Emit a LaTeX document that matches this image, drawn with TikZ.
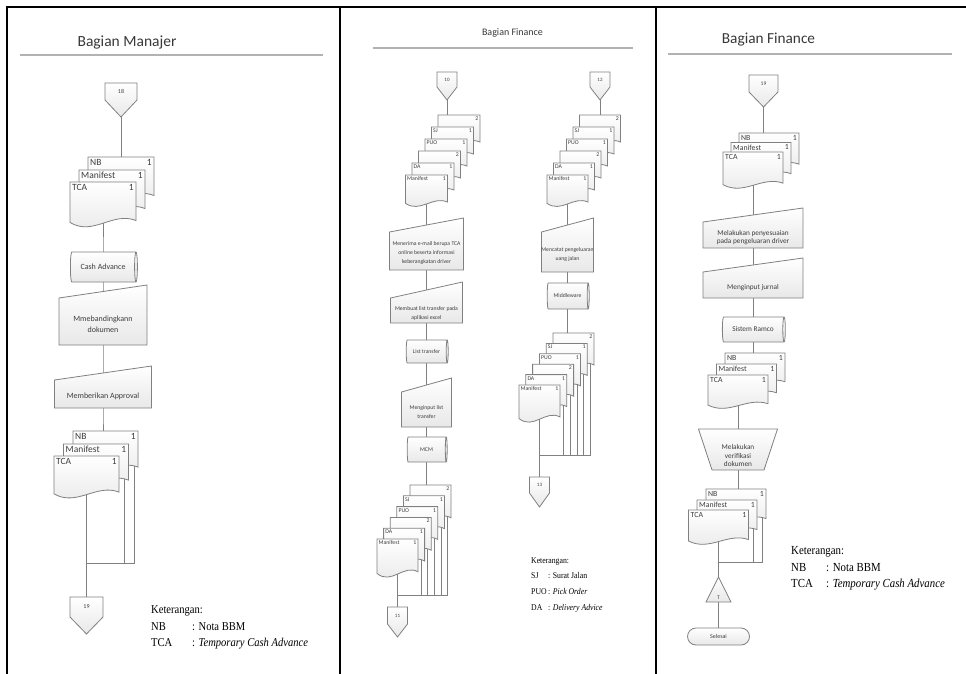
\documentclass[tikz,border=0pt]{standalone}
\usepackage{fontspec}
\setmainfont{Carlito}
\newfontfamily\ketfont[FakeStretch=0.88]{Liberation Serif}
\usetikzlibrary{positioning,shapes.geometric,backgrounds}

\definecolor{abugaris}{RGB}{128,128,128}
\definecolor{abujudul}{RGB}{178,178,178}
\definecolor{teksabu}{RGB}{62,62,62}

\tikzset{
  bingkai/.style={draw=black, line width=2.4pt},
  garisjudul/.style={draw=abujudul, line width=1.6pt},
  garis/.style={draw=abugaris, line width=0.8pt},
  bentuk/.style={draw=abugaris, line width=0.8pt, top color=white, bottom color=black!9},
  kotak/.style={rectangle, inner sep=1pt, outer sep=0pt, align=center, text=teksabu},
  judul/.style={inner sep=0pt, text=black!78},
  dlabel/.style={inner sep=2pt, text=teksabu},
  simpan/.style={cylinder, shape aspect=0.5, draw=abugaris, line width=0.8pt,
    top color=white, bottom color=black!9, inner sep=0pt, outer sep=0pt, text=teksabu},
  terminal/.style={rectangle, rounded corners=8.5pt, draw=abugaris, line width=0.8pt,
    top color=white, bottom color=black!9, inner sep=0pt, text=teksabu},
  ket/.style={anchor=north west, inner sep=0pt, text=black}
}

% dokumen: nama, x, y (kiri atas), lebar, tinggi, label kiri, label kanan
\newcommand{\dokumen}[7]{%
  \path[bentuk] (#2,#3) -- ({#2+#4},#3) -- ({#2+#4},{#3+0.82*#5})
    .. controls ({#2+0.65*#4},{#3+0.62*#5}) and ({#2+0.35*#4},{#3+1.16*#5})
    .. (#2,{#3+0.86*#5}) -- cycle;
  \node[kotak, inner sep=0pt, anchor=north west, minimum width=#4pt, minimum height=#5pt,
    label={[dlabel, anchor=north west]north west:#6},
    label={[dlabel, anchor=north east]north east:#7}] (#1) at (#2,#3) {};}
% input manual: nama, x, y (pusat), lebar, tinggi, kemiringan, teks
\newcommand{\masukan}[7]{%
  \path[bentuk] ({#2-#4/2},{#3-#5/2}) -- ({#2+#4/2},{#3-#5/2-#6})
    -- ({#2+#4/2},{#3+#5/2}) -- ({#2-#4/2},{#3+#5/2}) -- cycle;
  \node[kotak, teks, yshift=-2.5pt, minimum width=#4pt, minimum height=#5pt] (#1) at (#2,#3) {#7};}
% operasi manual: nama, x, y, lebar atas, tinggi, sisipan, teks
\newcommand{\operasi}[7]{%
  \path[bentuk] ({#2-#4/2},{#3-#5/2}) -- ({#2+#4/2},{#3-#5/2})
    -- ({#2+#4/2-#6},{#3+#5/2}) -- ({#2-#4/2+#6},{#3+#5/2}) -- cycle;
  \node[kotak, teks, yshift=-6pt, minimum width=#4pt, minimum height=#5pt] (#1) at (#2,#3) {#7};}
% penghubung halaman: nama, x, y (pusat badan), lebar, tinggi badan, ujung, teks
\newcommand{\penghubung}[7]{%
  \path[bentuk] ({#2-#4/2},{#3-#5/2}) -- ({#2+#4/2},{#3-#5/2}) -- ({#2+#4/2},{#3+#5/2})
    -- (#2,{#3+#5/2+#6}) -- ({#2-#4/2},{#3+#5/2}) -- cycle;
  \node[kotak, angka, inner sep=0pt, minimum width=#4pt, minimum height=#5pt] (#1) at (#2,#3) {#7};}
% segitiga: nama, x, y, lebar, tinggi, teks
\newcommand{\segitiga}[6]{%
  \path[bentuk] (#2,{#3-#5/2}) -- ({#2+#4/2},{#3+#5/2}) -- ({#2-#4/2},{#3+#5/2}) -- cycle;
  \node[kotak, minimum width=#4pt, minimum height=#5pt,
    label={[angka, anchor=south, inner sep=2.5pt]south:#6}] (#1) at (#2,#3) {};}

\begin{document}
\begin{tikzpicture}[x=1pt, y=-1pt]
  \useasboundingbox (0,0) rectangle (966,674);

  % Bingkai
  \draw[bingkai] (7,674) -- (7,7) -- (966,7);
  \draw[bingkai] (340,7) -- (340,674);
  \draw[bingkai] (656,7) -- (656,674);

  % ---------------- Bagian Manajer ----------------
  \begin{scope}[teks/.style={font=\fontsize{8}{11}\selectfont},
      angka/.style={font=\fontsize{6}{7}\selectfont, text=teksabu},
      dlabel/.style={inner sep=2pt, text=teksabu, font=\fontsize{9.5}{10}\selectfont}]
    \node[judul, font=\fontsize{15.5}{17}\selectfont] (judulA) at (127,42.5) {Bagian Manajer};
    \draw[garisjudul] (20,55) -- (323,55);

    \penghubung{c18}{121}{91.5}{32}{17}{17}{18}

    % Dokumen masuk
    \dokumen{nbA1}{88}{157}{66}{47}{NB}{1}
    \dokumen{mfA1}{79}{170}{66}{47}{Manifest}{1}
    \dokumen{tcaA1}{70}{182}{66}{47}{TCA}{1}

    % Proses
    \node[simpan, minimum width=30pt, minimum height=67pt, teks] (simpanA) at (103,267) {Cash Advance};
    \masukan{bandingA}{103}{321.5}{88}{47}{13}{Mmebandingkann\\dokumen}
    \masukan{approvalA}{103}{394}{97}{28}{14}{Memberikan Approval}

    % Dokumen keluar
    \dokumen{nbA2}{73}{431}{65}{44}{NB}{1}
    \dokumen{mfA2}{63.5}{444}{65}{44}{Manifest}{1}
    \dokumen{tcaA2}{54}{456}{65}{44}{TCA}{1}

    \coordinate (gabungA) at (86.5,563);
    \penghubung{c19A}{86.5}{607}{33}{20}{17}{19}

    \begin{pgfonlayer}{background}
      \draw[garis] (c18.center) -- (c18.center |- nbA1.center);
      \draw[garis] (tcaA1.center) -- (simpanA.center) -- (bandingA.center) -- (approvalA.center)
        -- (approvalA.center |- nbA2.center);
      \draw[garis] (tcaA2.center) -- (gabungA) -- (c19A.center);
      \draw[garis] ([xshift=-4pt]mfA2.east) -- ([xshift=-4pt]mfA2.east |- gabungA) -- (gabungA);
      \draw[garis] ([xshift=-4pt]nbA2.east) -- ([xshift=-4pt]nbA2.east |- gabungA) -- (gabungA);
    \end{pgfonlayer}

    \node[ket, font=\ketfont\fontsize{12}{16.5}\selectfont] (ketA) at (151,602) {%
      \begin{tabular}{@{}p{41pt}@{}l@{}}
        \multicolumn{2}{@{}l@{}}{Keterangan:}\\
        NB  & : Nota BBM\\
        TCA & : \textit{Temporary Cash Advance}
      \end{tabular}};
  \end{scope}

  % ---------------- Bagian Finance (tengah) ----------------
  \begin{scope}[teks/.style={font=\fontsize{5.7}{9}\selectfont},
      angka/.style={font=\fontsize{5}{6}\selectfont, text=teksabu},
      dlabel/.style={inner sep=1.5pt, text=teksabu, font=\fontsize{5.8}{6}\selectfont}]
    \node[judul, font=\fontsize{10}{11}\selectfont] (judulB) at (512.5,33) {Bagian Finance};
    \draw[garisjudul] (373,48) -- (633,48);

    \penghubung{c10}{447}{79.5}{20}{15}{13}{10}
    \penghubung{c12}{600}{79.5}{20}{15}{13}{12}

    % Dokumen dari 10
    \dokumen{kosongB1}{438}{115}{42}{33}{}{2}
    \dokumen{sjB1}{431.5}{127}{42}{33}{SJ}{1}
    \dokumen{puoB1}{425}{139}{42}{33}{PUO}{1}
    \dokumen{kosong2B1}{418.5}{151}{42}{33}{}{2}
    \dokumen{daB1}{412}{163}{42}{33}{DA}{1}
    \dokumen{mfB1}{405.5}{175}{42}{33}{Manifest}{1}

    \masukan{terimaB}{426.5}{251}{74}{38}{14}{Menerima e-mail berupa TCA\\online beserta informasi\\keberangkatan driver}
    \masukan{buatB}{426.5}{310.5}{72}{25}{16}{Membuat list transfer pada\\aplikasi excel}
    \node[simpan, minimum width=23pt, minimum height=42pt, teks] (listB) at (426.5,351.5) {List transfer};
    \masukan{inputB}{426.5}{409.5}{50}{35}{14}{Menginput list\\transfer}
    \node[simpan, minimum width=25pt, minimum height=40pt, teks] (mcmB) at (426.5,449.5) {MCM};

    \dokumen{kosongB2}{410}{485}{41}{40}{}{2}
    \dokumen{sjB2}{403.4}{495.8}{41}{40}{SJ}{1}
    \dokumen{puoB2}{396.8}{506.6}{41}{40}{PUO}{1}
    \dokumen{kosong2B2}{390.2}{517.4}{41}{40}{}{2}
    \dokumen{daB2}{383.6}{528.2}{41}{40}{DA}{1}
    \dokumen{mfB2}{377}{539}{41}{40}{Manifest}{1}

    \coordinate (gabungB) at (397.5,595);
    \penghubung{c11}{397.5}{615.5}{20}{17}{13}{11}

    % Dokumen dari 12
    \dokumen{kosongB3}{579.5}{115}{41}{33}{}{2}
    \dokumen{sjB3}{573}{127}{41}{33}{SJ}{1}
    \dokumen{puoB3}{566.5}{139}{41}{33}{PUO}{1}
    \dokumen{kosong2B3}{560}{151}{41}{33}{}{2}
    \dokumen{daB3}{553.5}{163}{41}{33}{DA}{1}
    \dokumen{mfB3}{547}{175}{41}{33}{Manifest}{1}

    \masukan{catatB}{567.5}{252}{52}{40}{14}{Mencatat pengeluaran\\uang jalan}
    \node[simpan, minimum width=26pt, minimum height=42pt, teks] (midB) at (567.5,296) {Middleware};

    \dokumen{kosongB4}{553}{333}{41}{39}{}{2}
    \dokumen{sjB4}{546.2}{343.4}{41}{39}{SJ}{1}
    \dokumen{puoB4}{539.4}{353.8}{41}{39}{PUO}{1}
    \dokumen{kosong2B4}{532.6}{364.2}{41}{39}{}{2}
    \dokumen{daB4}{525.8}{374.6}{41}{39}{DA}{1}
    \dokumen{mfB4}{519}{385}{41}{39}{Manifest}{1}

    \coordinate (gabungD) at (539.5,455);
    \penghubung{c13}{539.5}{485}{20}{16}{14}{13}

    \begin{pgfonlayer}{background}
      \draw[garis] (c10.center) -- (c10.center |- kosongB1.center);
      \draw[garis] (mfB1.center) -- (terimaB.center) -- (buatB.center) -- (listB.center)
        -- (inputB.center) -- (mcmB.center) -- (mcmB.center |- kosongB2.center);
      \draw[garis] (mfB2.center) -- (gabungB) -- (c11.center);
      \draw[garis] ([xshift=-3.5pt]daB2.east) -- ([xshift=-3.5pt]daB2.east |- gabungB) -- (gabungB);
      \draw[garis] ([xshift=-3.5pt]kosong2B2.east) -- ([xshift=-3.5pt]kosong2B2.east |- gabungB);
      \draw[garis] ([xshift=-3.5pt]puoB2.east) -- ([xshift=-3.5pt]puoB2.east |- gabungB);
      \draw[garis] ([xshift=-3.5pt]sjB2.east) -- ([xshift=-3.5pt]sjB2.east |- gabungB);
      \draw[garis] ([xshift=-3.5pt]kosongB2.east) -- ([xshift=-3.5pt]kosongB2.east |- gabungB) -- (gabungB);

      \draw[garis] (c12.center) -- (c12.center |- kosongB3.center);
      \draw[garis] (mfB3.center) -- (catatB.center) -- (midB.center) -- (midB.center |- kosongB4.center);
      \draw[garis] (mfB4.center) -- (gabungD) -- (c13.center);
      \draw[garis] ([xshift=-3.5pt]daB4.east) -- ([xshift=-3.5pt]daB4.east |- gabungD);
      \draw[garis] ([xshift=-3.5pt]kosong2B4.east) -- ([xshift=-3.5pt]kosong2B4.east |- gabungD);
      \draw[garis] ([xshift=-3.5pt]puoB4.east) -- ([xshift=-3.5pt]puoB4.east |- gabungD);
      \draw[garis] ([xshift=-3.5pt]sjB4.east) -- ([xshift=-3.5pt]sjB4.east |- gabungD);
      \draw[garis] ([xshift=-3.5pt]kosongB4.east) -- ([xshift=-3.5pt]kosongB4.east |- gabungD) -- (gabungD);
    \end{pgfonlayer}

    \node[ket, font=\ketfont\fontsize{8.8}{15.7}\selectfont] (ketB) at (531,552) {%
      \begin{tabular}{@{}p{17pt}@{}l@{}}
        \multicolumn{2}{@{}l@{}}{Keterangan:}\\
        SJ  & : Surat Jalan\\
        PUO & : \textit{Pick Order}\\
        DA  & : \textit{Delivery Advice}
      \end{tabular}};
  \end{scope}

  % ---------------- Bagian Finance (kanan) ----------------
  \begin{scope}[teks/.style={font=\fontsize{7.3}{8.5}\selectfont},
      angka/.style={font=\fontsize{5.5}{6}\selectfont, text=teksabu},
      dlabel/.style={inner sep=2pt, text=teksabu, font=\fontsize{7.8}{8}\selectfont}]
    \node[judul, font=\fontsize{15.3}{17}\selectfont] (judulC) at (768.5,40) {Bagian Finance};
    \draw[garisjudul] (668,54) -- (952,54);

    \penghubung{c19C}{763.5}{83.5}{29}{17}{15}{19}

    \dokumen{nbC1}{739}{133}{60}{38}{NB}{1}
    \dokumen{mfC1}{731}{142.5}{60}{38}{Manifest}{1}
    \dokumen{tcaC1}{723}{152}{60}{38}{TCA}{1}

    \masukan{sesuaiC}{753}{235}{100}{26}{14}{Melakukan penyesuaian\\pada pengeluaran driver}
    \masukan{jurnalC}{753}{285}{100}{26}{14}{Menginput jurnal}
    \node[simpan, minimum width=25pt, minimum height=63pt, teks] (ramcoC) at (753,329.5) {Sistem Ramco};

    \dokumen{nbC2}{725}{353}{60}{35}{NB}{1}
    \dokumen{mfC2}{716.5}{364}{60}{35}{Manifest}{1}
    \dokumen{tcaC2}{708}{375}{60}{35}{TCA}{1}

    \operasi{verifC}{738}{449.5}{79}{41}{13.5}{Melakukan\\verifikasi\\dokumen}

    \dokumen{nbC3}{706}{489}{60}{36}{NB}{1}
    \dokumen{mfC3}{697}{500}{60}{36}{Manifest}{1}
    \dokumen{tcaC3}{688.5}{510}{60}{36}{TCA}{1}

    \coordinate (gabungE) at (718.5,562);
    \segitiga{segitigaC}{718.5}{589.5}{25}{25}{T}
    \node[terminal, minimum width=62pt, minimum height=17pt, angka, font=\fontsize{6}{7}\selectfont]
      (selesaiC) at (718.5,636.5) {Selesai};

    \begin{pgfonlayer}{background}
      \draw[garis] (c19C.center) -- (c19C.center |- nbC1.center);
      \draw[garis] (tcaC1.center) -- (sesuaiC.center) -- (jurnalC.center) -- (ramcoC.center)
        -- (ramcoC.center |- nbC2.center);
      \draw[garis] (tcaC2.center) -- (verifC.center) -- (verifC.center |- nbC3.center);
      \draw[garis] (tcaC3.center) -- (gabungE) -- (segitigaC.center) -- (selesaiC.center);
      \draw[garis] ([xshift=-3.5pt]mfC3.east) -- ([xshift=-3.5pt]mfC3.east |- gabungE);
      \draw[garis] ([xshift=-3.5pt]nbC3.east) -- ([xshift=-3.5pt]nbC3.east |- gabungE) -- (gabungE);
    \end{pgfonlayer}

    \node[ket, font=\ketfont\fontsize{12.3}{16.5}\selectfont] (ketC) at (791,543) {%
      \begin{tabular}{@{}p{35pt}@{}l@{}}
        \multicolumn{2}{@{}l@{}}{Keterangan:}\\
        NB  & : Nota BBM\\
        TCA & : \textit{Temporary Cash Advance}
      \end{tabular}};
  \end{scope}
\end{tikzpicture}
\end{document}
